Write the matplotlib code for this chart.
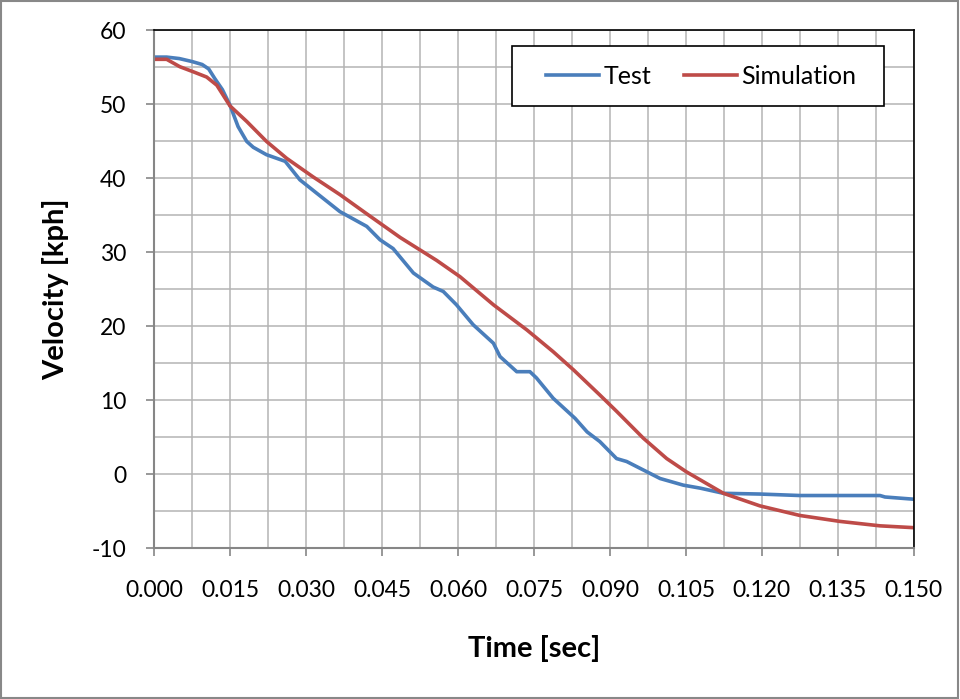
import matplotlib
matplotlib.use("Agg")
import matplotlib.pyplot as plt
from matplotlib.patches import Rectangle
from matplotlib.ticker import MultipleLocator

plt.rcParams["font.family"] = ["Lato", "DejaVu Sans"]
plt.rcParams["axes.unicode_minus"] = False

# time in seconds, velocity in kph
test_t = [0.0, 0.0025, 0.005, 0.0075, 0.0095, 0.0108, 0.012, 0.0135, 0.015, 0.0166,
          0.0183, 0.0196, 0.0222, 0.0259, 0.0288, 0.0321, 0.0367, 0.0420, 0.0446,
          0.0472, 0.0512, 0.0551, 0.0571, 0.0597, 0.0630, 0.0670, 0.0683, 0.0716,
          0.0742, 0.0755, 0.0788, 0.0831, 0.0855, 0.0880, 0.0913, 0.0933, 0.0966,
          0.0999, 0.1045, 0.1078, 0.1124, 0.1196, 0.1275, 0.1433, 0.1443, 0.1500]
test_v = [56.4, 56.4, 56.2, 55.8, 55.4, 54.8, 53.5, 52.0, 49.9, 47.0,
          45.0, 44.2, 43.2, 42.3, 39.8, 38.0, 35.5, 33.5, 31.7,
          30.5, 27.2, 25.3, 24.7, 22.9, 20.2, 17.7, 15.9, 13.85,
          13.85, 13.0, 10.25, 7.55, 5.7, 4.4, 2.1, 1.7, 0.55,
          -0.6, -1.5, -1.9, -2.6, -2.7, -2.9, -2.9, -3.1, -3.4]

sim_t = [0.0, 0.0025, 0.0051, 0.0078, 0.0104, 0.0124, 0.015, 0.0183, 0.0222,
         0.0262, 0.0314, 0.0367, 0.0420, 0.0486, 0.0558, 0.0604, 0.0670,
         0.0736, 0.0788, 0.0828, 0.0880, 0.0913, 0.0966, 0.1012, 0.1051,
         0.1124, 0.1196, 0.1275, 0.1354, 0.1433, 0.1500]
sim_v = [56.1, 56.1, 55.1, 54.4, 53.7, 52.6, 49.8, 47.7, 45.0,
         42.7, 40.2, 37.8, 35.2, 32.0, 28.9, 26.7, 22.9,
         19.5, 16.55, 14.1, 10.7, 8.5, 4.85, 2.1, 0.3,
         -2.6, -4.3, -5.6, -6.4, -7.0, -7.25]

fig = plt.figure(figsize=(9.6, 6.99), dpi=100)
fig.patches.append(Rectangle((0.001, 0.001), 0.997, 0.997, transform=fig.transFigure,
                             fill=False, edgecolor="#888888", linewidth=1.5))
ax = fig.add_axes([0.1604, 0.216, 0.7916, 0.7404])

ax.plot(test_t, test_v, color="#4A7EBB", linewidth=2.6, label="Test")
ax.plot(sim_t, sim_v, color="#BE4B48", linewidth=2.6, label="Simulation")

ax.set_xlim(0, 0.150)
ax.set_ylim(-10, 60)
ax.xaxis.set_major_locator(MultipleLocator(0.015))
ax.xaxis.set_minor_locator(MultipleLocator(0.0075))
ax.yaxis.set_major_locator(MultipleLocator(10))
ax.yaxis.set_minor_locator(MultipleLocator(5))
ax.xaxis.set_major_formatter(plt.FuncFormatter(lambda v, p: f"{v:.3f}"))
ax.grid(True, which="both", color="#B4B4B4", linewidth=1.1)
ax.set_axisbelow(True)
ax.tick_params(which="major", direction="out", length=6, width=1.2, color="#868686",
               labelsize=16.5)
ax.tick_params(which="minor", length=0)
ax.tick_params(axis="x", pad=17)
ax.tick_params(axis="y", pad=14)
for s in ("left", "bottom"):
    ax.spines[s].set_color("#868686")
    ax.spines[s].set_linewidth(1.5)
for s in ("top", "right"):
    ax.spines[s].set_color("black")
    ax.spines[s].set_linewidth(1.2)

ax.set_xlabel("Time [sec]", fontsize=21, fontweight="bold")
ax.set_ylabel("Velocity [kph]", fontsize=21, fontweight="bold")
ax.xaxis.set_label_coords(0.5, -0.168)
ax.yaxis.set_label_coords(-0.112, 0.5)

# legend box drawn separately so its padding matches the reference
ax.add_patch(Rectangle((0.471, 0.854), 0.4895, 0.116, transform=ax.transAxes,
                       facecolor="white", edgecolor="black", linewidth=1.2, zorder=5))
leg = ax.legend(loc="center", bbox_to_anchor=(0.7204, 0.912), ncol=2, fontsize=18,
                frameon=False, handlelength=2.1, handletextpad=0.2, columnspacing=1.3,
                borderpad=0, borderaxespad=0)
leg.set_zorder(6)

fig.savefig("out.png", dpi=100)
